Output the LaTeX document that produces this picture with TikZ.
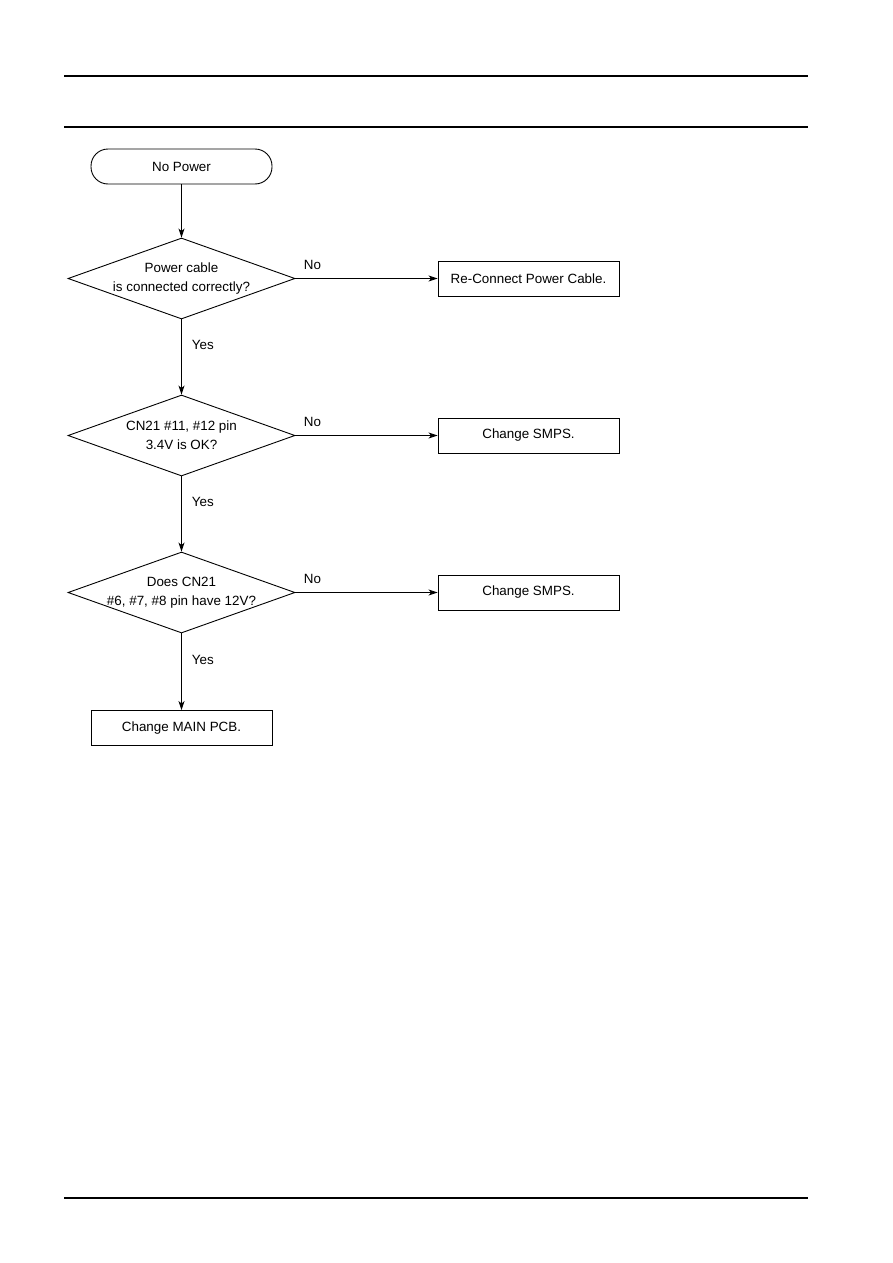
\documentclass[tikz,border=0pt]{standalone}
\usepackage{fontspec}
\setmainfont{Liberation Sans}
\usepackage{tikz}
\usetikzlibrary{arrows.meta,positioning,shapes.geometric}

\begin{document}
\begin{tikzpicture}[x=1pt,y=-1pt,
  font=\fontsize{13.4}{19}\selectfont,
  line width=0.9pt,
  >={Stealth[length=9pt,width=6pt,inset=2.5pt]},
  startbox/.style={draw, rounded corners=17pt, minimum width=181pt, minimum height=35pt, inner sep=0pt},
  actbox/.style={draw, minimum width=181pt, minimum height=35pt, inner sep=0pt},
  decision/.style={draw, diamond, minimum width=227pt, minimum height=81pt, inner sep=0pt},
  qtext/.style={align=center, inner sep=0pt},
  nolabel/.style={pos=0, anchor=south west, inner sep=0pt, xshift=8pt, yshift=8pt},
  yeslabel/.style={pos=0.34, anchor=west, inner sep=0pt, xshift=10pt}]
\useasboundingbox (0,0) rectangle (893,1263);

% page rules
\draw[line width=1.2pt] (64,76) -- (808,76);
\draw[line width=1.2pt] (64,127) -- (808,127);
\draw[line width=1.2pt] (64,1198) -- (808,1198);

% left column
\node[startbox] (start) at (181.5,166.5) {No Power};
\node[decision] (q1) at (181.5,278.5)
  {} node[qtext] (q1t) at (q1) {Power cable\\is connected correctly?};
\node[decision] (q2) at (181.5,435.5)
  {} node[qtext] (q2t) at (q2) {CN21 \#11, \#12 pin\\3.4V is OK?};
\node[decision] (q3) at (181.5,592.5)
  {} node[qtext] (q3t) at (q3) {Does CN21\\\#6, \#7, \#8 pin have 12V?};
\node[actbox] (mainpcb) at (181.5,728) {Change MAIN PCB.};

% right column
\node[actbox] (fix1) at (528.5,278.5) {Re-Connect Power Cable.};
\node[actbox] (fix2) at (528.5,435.5) {Change SMPS.};
\node[actbox] (fix3) at (528.5,592.5) {Change SMPS.};

% connectors
\draw[->] (start) -- (q1);
\draw[->] (q1.south) -- node[yeslabel] {Yes} (q2.north);
\draw[->] (q2.south) -- node[yeslabel] {Yes} (q3.north);
\draw[->] (q3.south) -- node[yeslabel] {Yes} (mainpcb.north);
\draw[->] (q1.east) -- node[nolabel] {No} (fix1.west);
\draw[->] (q2.east) -- node[nolabel] {No} (fix2.west);
\draw[->] (q3.east) -- node[nolabel] {No} (fix3.west);
\end{tikzpicture}
\end{document}
